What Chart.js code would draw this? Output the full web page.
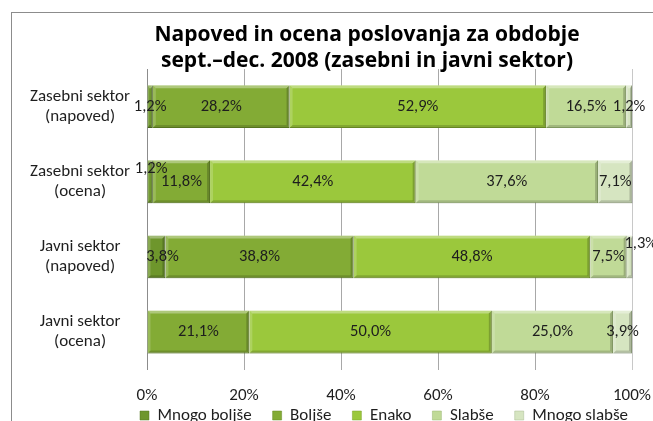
<!DOCTYPE html>
<html>
<head>
<meta charset="utf-8">
<script src="https://cdn.jsdelivr.net/npm/chart.js@4"></script>
<style>
  html, body { margin: 0; padding: 0; background: #fff; overflow: hidden; }
  #wrap { position: relative; width: 653px; height: 421px; overflow: hidden; }
  #frame { position: absolute; left: 11px; top: 12px; width: 760px; height: 480px; border: 1px solid #8c8c8c; box-sizing: border-box; }
  canvas { position: absolute; left: 0; top: 0; }
</style>
</head>
<body>
<div id="wrap">
  <div id="frame"></div>
  <canvas id="chart" width="734" height="473"></canvas>
</div>
<script>
// Data
const categories = [
  ['Zasebni sektor', '(napoved)'],
  ['Zasebni sektor', '(ocena)'],
  ['Javni sektor', '(napoved)'],
  ['Javni sektor', '(ocena)']
];
const seriesNames = ['Mnogo boljše', 'Boljše', 'Enako', 'Slabše', 'Mnogo slabše'];
const mnogoBoljse = [1.2, 1.2, 3.8, 0];
const boljse = [28.2, 11.8, 38.8, 21.1];
const enako = [52.9, 42.4, 48.8, 50.0];
const slabse = [16.5, 37.6, 7.5, 25.0];
const mnogoSlabse = [1.2, 7.1, 1.3, 3.9];
const xTicks = [0, 20, 40, 60, 80, 100];

const colors = ['#6e962c', '#83ab35', '#9bc83c', '#c0da97', '#d6e5c1'];
const borders = ['#557520', '#668a24', '#7aa02a', '#98b470', '#a9bb93'];
const FONT = "Carlito, 'Open Sans', sans-serif";

// Shift some overlapping labels like the original
const labelNudge = { '1-0': [1, -13], '2-0': [6, 0], '2-4': [11, -13] };

const datasets = [mnogoBoljse, boljse, enako, slabse, mnogoSlabse].map((vals, i) => ({
  label: seriesNames[i],
  data: vals,
  backgroundColor: colors[i],
  borderColor: borders[i],
  borderWidth: { top: 0, bottom: 1, left: 0, right: 1 },
  borderSkipped: false,
  barPercentage: 0.57,
  categoryPercentage: 1.0
}));

// Soft bevel on each bar segment (light top edge, dark bottom/right edge)
const bevel = {
  id: 'bevel',
  afterDatasetsDraw(chart) {
    const ctx = chart.ctx;
    ctx.save();
    chart.data.datasets.forEach((ds, di) => {
      chart.getDatasetMeta(di).data.forEach((bar, i) => {
        if (!ds.data[i]) return;
        const x0 = Math.min(bar.base, bar.x), x1 = Math.max(bar.base, bar.x);
        const y0 = bar.y - bar.height / 2, y1 = bar.y + bar.height / 2;
        const w = x1 - x0;
        const e = Math.min(3, w / 3);
        ctx.fillStyle = 'rgba(255,255,255,0.35)';
        ctx.beginPath();
        ctx.moveTo(x0, y0); ctx.lineTo(x1, y0); ctx.lineTo(x1 - e, y0 + 3); ctx.lineTo(x0 + e, y0 + 3);
        ctx.fill();
        ctx.fillStyle = 'rgba(255,255,255,0.18)';
        ctx.beginPath();
        ctx.moveTo(x0, y0); ctx.lineTo(x0 + e, y0 + 3); ctx.lineTo(x0 + e, y1 - 3); ctx.lineTo(x0, y1);
        ctx.fill();
        ctx.fillStyle = 'rgba(0,0,0,0.16)';
        ctx.beginPath();
        ctx.moveTo(x0, y1); ctx.lineTo(x1, y1); ctx.lineTo(x1 - e, y1 - 3); ctx.lineTo(x0 + e, y1 - 3);
        ctx.fill();
        ctx.fillStyle = 'rgba(0,0,0,0.2)';
        ctx.beginPath();
        ctx.moveTo(x1, y0); ctx.lineTo(x1, y1); ctx.lineTo(x1 - e, y1 - 3); ctx.lineTo(x1 - e, y0 + 3);
        ctx.fill();
      });
    });
    ctx.restore();
  }
};

// Draw value labels centered on each segment
const valueLabels = {
  id: 'valueLabels',
  afterDatasetsDraw(chart) {
    const ctx = chart.ctx;
    ctx.save();
    ctx.font = '16.5px ' + FONT;
    ctx.fillStyle = '#1e1e1e';
    ctx.textAlign = 'center';
    ctx.textBaseline = 'middle';
    chart.data.datasets.forEach((ds, di) => {
      chart.getDatasetMeta(di).data.forEach((bar, i) => {
        const v = ds.data[i];
        if (!v) return;
        const nudge = labelNudge[i + '-' + di] || [0, 0];
        const cx = (bar.x + bar.base) / 2 + nudge[0];
        ctx.fillText(v.toFixed(1).replace('.', ',') + '%', cx, bar.y + nudge[1]);
      });
    });
    ctx.restore();
  }
};

// Pull the legend up close under the axis labels, as in the original
const legendShift = {
  id: 'legendShift',
  afterLayout(chart) {
    const lg = chart.legend;
    lg.top -= 36;
    lg.bottom -= 36;
    lg.left += 17;
    lg.right += 17;
  }
};

new Chart(document.getElementById('chart'), {
  type: 'bar',
  data: { labels: categories, datasets: datasets },
  plugins: [bevel, valueLabels, legendShift],
  options: {
    indexAxis: 'y',
    responsive: false,
    animation: false,
    layout: { padding: { left: 0, right: 0, top: 0, bottom: 3 } },
    scales: {
      x: {
        stacked: true,
        min: 0,
        max: 100,
        afterBuildTicks: s => { s.ticks = xTicks.map(v => ({ value: v })); },
        ticks: {
          callback: v => v + '%',
          font: { family: FONT, size: 17 },
          color: '#1e1e1e',
          padding: 16
        },
        grid: { color: '#a8a8a8', drawTicks: false },
        border: { display: false }
      },
      y: {
        stacked: true,
        afterFit: s => { s.width = 147; },
        ticks: {
          font: { family: FONT, size: 17 },
          color: '#1e1e1e',
          crossAlign: 'center',
          padding: 17
        },
        grid: { display: false, drawTicks: false },
        border: { display: true, color: '#8c8c8c' }
      },
      yRight: {
        type: 'category',
        position: 'right',
        afterFit: s => { s.width = 102; },
        ticks: { display: false },
        grid: { display: false, drawTicks: false },
        border: { display: true, color: '#c8c8c8' }
      }
    },
    plugins: {
      title: {
        display: true,
        text: ['Napoved in ocena poslovanja za obdobje', 'sept.–dec. 2008 (zasebni in javni sektor)'],
        font: { family: "'Open Sans', sans-serif", size: 21, weight: 'bold', lineHeight: 1.24 },
        color: '#000',
        padding: { top: 22, bottom: -5 }
      },
      legend: {
        position: 'bottom',
        labels: {
          font: { family: FONT, size: 17 },
          color: '#1e1e1e',
          boxWidth: 9,
          boxHeight: 9,
          padding: 21
        }
      },
      tooltip: { enabled: false }
    }
  }
});
</script>
</body>
</html>
